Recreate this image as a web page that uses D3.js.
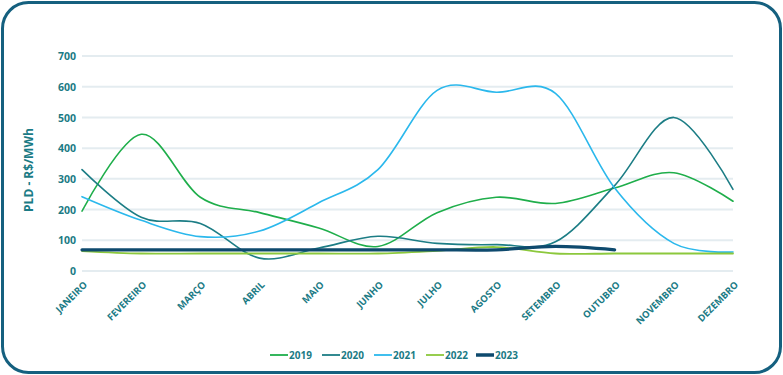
<!DOCTYPE html>
<html>
<head>
<meta charset="utf-8">
<script src="https://cdn.jsdelivr.net/npm/d3@7"></script>
<style>
  body { margin: 0; background: #fff; }
  text { font-family: "Open Sans", sans-serif; font-weight: bold; fill: #1b7b85; }
</style>
</head>
<body>
<div id="chart"></div>
<script>
// months and yearly PLD values (R$/MWh)
const months = ["JANEIRO", "FEVEREIRO", "MARÇO", "ABRIL", "MAIO", "JUNHO", "JULHO", "AGOSTO", "SETEMBRO", "OUTUBRO", "NOVEMBRO", "DEZEMBRO"];
const yTicks = [0, 100, 200, 300, 400, 500, 600, 700];

const v2019 = [195, 445, 240, 190, 140, 80, 190, 240, 220, 270, 320, 227];
const v2020 = [330, 175, 155, 42, 75, 113, 90, 86, 95, 278, 500, 266];
const v2021 = [242, 165, 112, 130, 222, 330, 588, 582, 578, 270, 90, 62];
const v2022 = [65, 57, 57, 57, 57, 57, 66, 78, 57, 57, 57, 57];
const v2023 = [69, 69, 69, 69, 69, 69, 69, 69, 80, 69];

const seriesNames = ["2019", "2020", "2021", "2022", "2023"];
const colors = ["#1fae4b", "#1c7d85", "#2bb8ec", "#8cc83c", "#0e4a6e"];
const widths = [1.6, 1.6, 1.6, 1.8, 3.2];

const W = 783, H = 375;
const svg = d3.select("#chart").append("svg").attr("width", W).attr("height", H);

// frame
svg.append("rect")
  .attr("x", 2.5).attr("y", 2.5)
  .attr("width", W - 5).attr("height", H - 5)
  .attr("rx", 26).attr("ry", 26)
  .attr("fill", "#fff").attr("stroke", "#15607f").attr("stroke-width", 3);

const x = d3.scalePoint().domain(months).range([82, 733]);
const y = d3.scaleLinear().domain([0, 700]).range([271, 56]);

// gridlines
svg.append("g").selectAll("line").data(yTicks).join("line")
  .attr("x1", 82).attr("x2", 733)
  .attr("y1", d => y(d)).attr("y2", d => y(d))
  .attr("stroke", "#e4ecf0").attr("stroke-width", 2);

// y axis
const yAxis = svg.append("g").attr("transform", "translate(76,0)")
  .call(d3.axisLeft(y).tickValues(yTicks).tickSize(0).tickPadding(0));
yAxis.select(".domain").remove();
yAxis.selectAll("text").style("font-size", "10.5px").attr("dy", "0.35em")
  .style("font-family", "'Open Sans', sans-serif").style("font-weight", "bold").attr("fill", "#1b7b85");

// x axis
const xAxis = svg.append("g").attr("transform", "translate(0,281)")
  .call(d3.axisBottom(x).tickSize(0).tickPadding(0));
xAxis.select(".domain").remove();
xAxis.selectAll("text")
  .style("font-size", "9.5px")
  .style("font-family", "'Open Sans', sans-serif").style("font-weight", "bold").attr("fill", "#1b7b85")
  .attr("text-anchor", "end")
  .attr("dy", "0.35em").attr("y", 0)
  .attr("transform", "translate(3,2) rotate(-45)");

// axis title
svg.append("text")
  .attr("transform", "translate(33,170) rotate(-90)")
  .attr("text-anchor", "middle")
  .style("font-size", "12px")
  .text("PLD - R$/MWh");

const line = d3.line()
  .x((d, i) => x(months[i]))
  .y(d => y(d))
  .curve(d3.curveCardinal.tension(0));

const allSeries = [v2019, v2020, v2021, v2022, v2023];

svg.append("g").selectAll("path").data(allSeries).join("path")
  .attr("d", line)
  .attr("fill", "none")
  .attr("stroke", (d, i) => colors[i])
  .attr("stroke-width", (d, i) => widths[i])
  .attr("stroke-linecap", "round");

// legend
const legendX = [270, 322, 374, 426, 476];
const leg = svg.append("g").selectAll("g").data(seriesNames).join("g")
  .attr("transform", (d, i) => `translate(${legendX[i]},355)`);
leg.append("line")
  .attr("x1", 0).attr("x2", 18).attr("y1", 0).attr("y2", 0)
  .attr("stroke", (d, i) => colors[i])
  .attr("stroke-width", (d, i) => i === 4 ? 3.5 : 1.8);
leg.append("text")
  .attr("x", 19).attr("dy", "0.35em")
  .style("font-size", "10px")
  .text(d => d);
</script>
</body>
</html>
